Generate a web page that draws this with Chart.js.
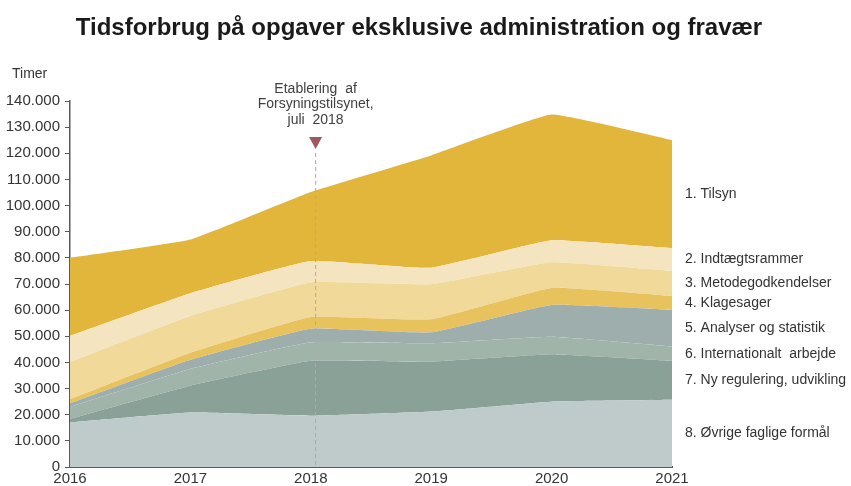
<!DOCTYPE html>
<html>
<head>
<meta charset="utf-8">
<script src="https://cdn.jsdelivr.net/npm/chart.js@4.4.1/dist/chart.umd.min.js"></script>
<style>
  html, body { margin: 0; padding: 0; background: #ffffff; }
  #wrap { width: 851px; height: 486px; position: relative; }
</style>
</head>
<body>
<div id="wrap"><canvas id="c" width="851" height="486"></canvas></div>
<script>
// ---- data (hours) ----
const years = ['2016', '2017', '2018', '2019', '2020', '2021'];
const seriesNames = [
  '8. Øvrige faglige formål',
  '7. Ny regulering, udvikling',
  '6. Internationalt  arbejde',
  '5. Analyser og statistik',
  '4. Klagesager',
  '3. Metodegodkendelser',
  '2. Indtægtsrammer',
  '1. Tilsyn'
];
const ovrige        = [17000, 20800, 19600, 21200, 25000, 25700];
const nyRegulering  = [1400, 10300, 21000, 19100, 18100, 14900];
const internationalt= [4600, 6400, 7100, 7000, 6700, 5500];
const analyser      = [1300, 3500, 5200, 4200, 12200, 14000];
const klagesager    = [1600, 2700, 4500, 5000, 6500, 5300];
const metode        = [14300, 14100, 13200, 13400, 9800, 9600];
const indtaegt      = [10000, 8700, 8200, 6300, 8400, 8700];
const tilsyn        = [29800, 20500, 26400, 43000, 48100, 41300];
const yTicks = [0, 10000, 20000, 30000, 40000, 50000, 60000, 70000, 80000, 90000, 100000, 110000, 120000, 130000, 140000];
const annotationLines = ['Etablering  af', 'Forsyningstilsynet,', 'juli  2018'];
const annotationAt = 2.04; // category index of the marker (just after 2018)

const seriesValues = [ovrige, nyRegulering, internationalt, analyser, klagesager, metode, indtaegt, tilsyn];
const colors = ['#BFCACA', '#8AA197', '#A0B4AA', '#9DAEAC', '#E8C35D', '#F1D99A', '#F4E4C0', '#E2B63A'];

const FONT = '"Liberation Sans", Arial, sans-serif';
const TEXT = '#333333';

function fmt(v) {
  return String(v).replace(/\B(?=(\d{3})+(?!\d))/g, '.');
}

const datasets = seriesValues.map((vals, i) => ({
  label: seriesNames[i],
  data: vals,
  backgroundColor: colors[i],
  borderColor: colors[i],
  borderWidth: 0,
  pointRadius: 0,
  pointHoverRadius: 0,
  tension: 0.1,
  fill: i === 0 ? 'origin' : '-1'
}));

const overlay = {
  id: 'overlay',
  afterDatasetsDraw(chart) {
    const ctx = chart.ctx;
    const x = chart.scales.x, y = chart.scales.y;
    const area = chart.chartArea;
    ctx.save();
    // dashed marker line
    const mx = x.getPixelForValue(annotationAt);
    ctx.strokeStyle = '#C99DA2';
    ctx.lineWidth = 1;
    ctx.setLineDash([4, 3]);
    ctx.beginPath();
    ctx.moveTo(mx, 153);
    ctx.lineTo(mx, area.bottom);
    ctx.stroke();
    ctx.setLineDash([]);
    // triangle
    ctx.fillStyle = '#A0585F';
    ctx.beginPath();
    ctx.moveTo(mx - 6.5, 137);
    ctx.lineTo(mx + 6.5, 137);
    ctx.lineTo(mx, 149);
    ctx.closePath();
    ctx.fill();
    // annotation text
    ctx.fillStyle = '#404040';
    ctx.font = '14px ' + FONT;
    ctx.textAlign = 'center';
    ctx.textBaseline = 'middle';
    annotationLines.forEach((t, i) => ctx.fillText(t, mx, 89 + i * 15.5));
    // series labels at the middle of each band at the last year
    const last = years.length - 1;
    let cum = 0;
    ctx.textAlign = 'left';
    ctx.fillStyle = TEXT;
    seriesValues.forEach((vals, i) => {
      const lo = cum;
      cum += vals[last];
      const mid = (lo + cum) / 2;
      ctx.fillText(seriesNames[i], area.right + 13, y.getPixelForValue(mid));
    });
    // unit label
    ctx.fillText('Timer', 12, 74);
    // title
    ctx.font = 'bold 24px ' + FONT;
    ctx.fillStyle = '#1a1a1a';
    ctx.textAlign = 'center';
    ctx.fillText('Tidsforbrug på opgaver eksklusive administration og fravær', 419, 28);
    ctx.restore();
  }
};

new Chart(document.getElementById('c'), {
  type: 'line',
  data: { labels: years, datasets },
  options: {
    responsive: false,
    animation: false,
    events: [],
    layout: { padding: { left: 0, right: 179, top: 101, bottom: 0 } },
    plugins: { legend: { display: false }, tooltip: { enabled: false }, title: { display: false } },
    elements: { line: { borderWidth: 0 } },
    scales: {
      x: {
        type: 'category',
        offset: false,
        grid: { display: false, drawTicks: false },
        border: { display: true, color: '#595959', width: 2 },
        ticks: { color: TEXT, font: { family: FONT, size: 15 }, padding: 3, maxRotation: 0, autoSkip: false },
        afterFit(s) { s.height = 19; }
      },
      y: {
        stacked: true,
        min: 0,
        max: 140000,
        afterBuildTicks(s) { s.ticks = yTicks.map(v => ({ value: v })); },
        grid: { display: true, drawOnChartArea: false, drawTicks: true, tickLength: 5, color: '#595959', tickColor: '#595959' },
        border: { display: true, color: '#595959', width: 1.5 },
        ticks: { color: TEXT, font: { family: FONT, size: 15 }, padding: 5, callback: v => fmt(v) },
        afterFit(s) { s.width = 70; }
      }
    }
  },
  plugins: [overlay]
});
</script>
</body>
</html>
